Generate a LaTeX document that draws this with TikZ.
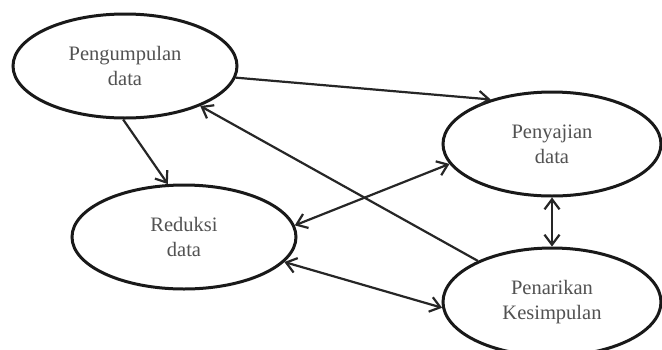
\documentclass[tikz,border=0pt]{standalone}
\usepackage{fontspec}
\setmainfont{Liberation Serif}
\usetikzlibrary{shapes.geometric,arrows.meta}
\begin{document}
\begin{tikzpicture}[x=1pt,y=-1pt,
  stage/.style={ellipse,draw=black!90,line width=3pt,inner sep=0pt,
    minimum width=224pt,minimum height=104pt,align=center,
    font=\fontsize{20.5}{25}\selectfont,text=black!68},
  link/.style={draw=black!85,line width=2.2pt,
    arrows={-Straight Barb[length=10pt,width=15pt]}},
  dlink/.style={draw=black!85,line width=2.2pt,
    arrows={Straight Barb[length=10pt,width=15pt]-Straight Barb[length=10pt,width=15pt]}}]
\clip (0,0) rectangle (662,349);
\fill[white] (0,0) rectangle (662,349);
\node[stage] (kum) at (125,66) {Pengumpulan\\data};
\node[stage,minimum width=218pt] (saji) at (552,144) {Penyajian\\data};
\node[stage] (red) at (184,237) {Reduksi\\data};
\node[stage,minimum width=218pt,minimum height=108pt] (tarik) at (552,302) {Penarikan\\Kesimpulan};
\draw[link] (kum.-6.5) -- (saji.144);
\draw[link] (kum.-92) -- (red.107.5);
\draw[link] (tarik.151.7) -- (kum.-28.3);
\draw[dlink] (red.6) -- (saji.191.6);
\draw[dlink] (saji.-90) -- (tarik.90);
\draw[dlink] (red.-14.2) -- (tarik.183);
\end{tikzpicture}
\end{document}
